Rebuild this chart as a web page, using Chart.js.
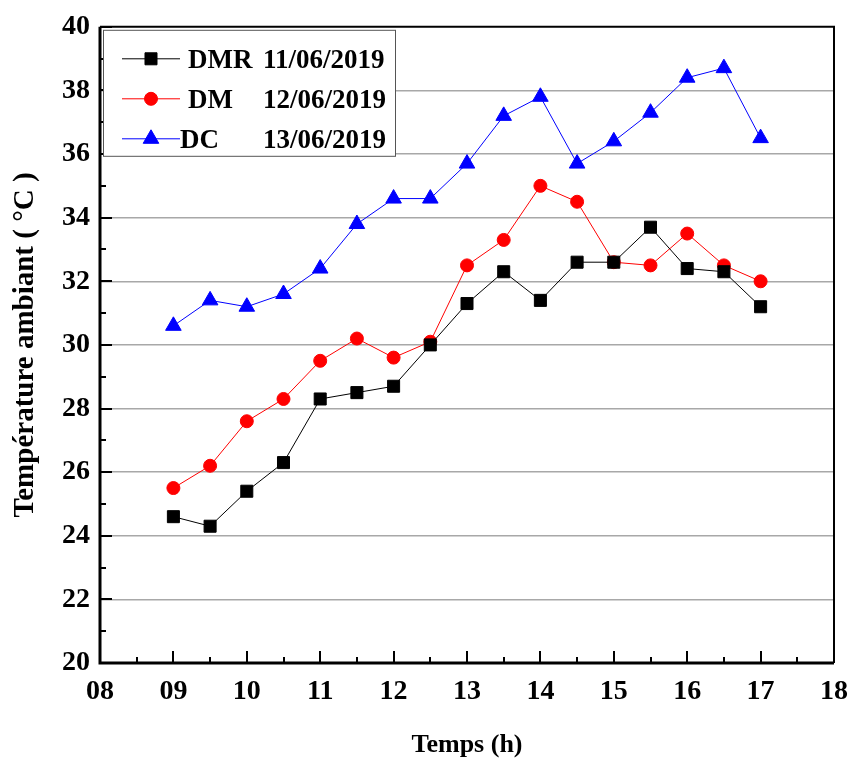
<!DOCTYPE html>
<html lang="fr">
<head>
    <meta charset="UTF-8">
    <script src="https://cdn.jsdelivr.net/npm/chart.js"></script>
    <title>Température ambiant</title>
    <style>
        html, body { margin: 0; padding: 0; background: #fff; }
        #box { width: 850px; height: 765px; }
    </style>
</head>
<body>
<div id="box"><canvas id="grafico"></canvas></div>

<script>
    // heures de mesure
    var heures = [9, 9.5, 10, 10.5, 11, 11.5, 12, 12.5, 13, 13.5, 14, 14.5, 15, 15.5, 16, 16.5, 17];

    var dmr = [24.6, 24.3, 25.4, 26.3, 28.3, 28.5, 28.7, 30.0, 31.3, 32.3, 31.4, 32.6, 32.6, 33.7, 32.4, 32.3, 31.2];
    var dm  = [25.5, 26.2, 27.6, 28.3, 29.5, 30.2, 29.6, 30.1, 32.5, 33.3, 35.0, 34.5, 32.6, 32.5, 33.5, 32.5, 32.0];
    var dc  = [30.6, 31.4, 31.2, 31.6, 32.4, 33.8, 34.6, 34.6, 35.7, 37.2, 37.8, 35.7, 36.4, 37.3, 38.4, 38.7, 36.5];

    var nomsSeries = ['DMR', 'DM', 'DC'];
    var dates = ['11/06/2019', '12/06/2019', '13/06/2019'];

    var xTicks = ['08', '09', '10', '11', '12', '13', '14', '15', '16', '17', '18'];

    var police = '"Liberation Serif", "Times New Roman", serif';

    function pts(valeurs) {
        var r = [];
        for (var i = 0; i < heures.length; i++) {
            r.push({ x: heures[i], y: valeurs[i] });
        }
        return r;
    }

    // ticks vers l'interieur + cadre
    var cadrePlugin = {
        id: 'cadre',
        afterDatasetsDraw: function (chart) {
            var ctx = chart.ctx;
            var a = chart.chartArea;
            var sx = chart.scales.x, sy = chart.scales.y;
            ctx.save();
            ctx.strokeStyle = '#000';
            ctx.lineWidth = 2;
            for (var v = 8; v <= 18; v += 0.5) {
                var px = Math.round(sx.getPixelForValue(v));
                var len = (v % 1 === 0) ? 12 : 6;
                ctx.beginPath();
                ctx.moveTo(px, a.bottom);
                ctx.lineTo(px, a.bottom - len);
                ctx.stroke();
            }
            for (var w = 20; w <= 40; w += 1) {
                var py = Math.round(sy.getPixelForValue(w));
                var l2 = (w % 2 === 0) ? 12 : 6;
                ctx.beginPath();
                ctx.moveTo(a.left, py);
                ctx.lineTo(a.left + l2, py);
                ctx.stroke();
            }
            ctx.lineWidth = 3;
            ctx.beginPath();
            ctx.moveTo(a.left, a.top);
            ctx.lineTo(a.left, a.bottom);
            ctx.lineTo(a.right, a.bottom);
            ctx.stroke();
            ctx.lineWidth = 2;
            ctx.beginPath();
            ctx.moveTo(a.left, a.top);
            ctx.lineTo(a.right, a.top);
            ctx.lineTo(a.right, a.bottom);
            ctx.stroke();
            ctx.restore();
        },
        afterDraw: function (chart) {
            // legende dans le graphique
            var ctx = chart.ctx;
            var a = chart.chartArea;
            var x0 = a.left + 3, y0 = a.top + 3, w = 292, h = 126;
            ctx.save();
            ctx.fillStyle = '#fff';
            ctx.fillRect(x0, y0, w, h);
            ctx.strokeStyle = '#555';
            ctx.lineWidth = 1;
            ctx.strokeRect(x0 + 0.5, y0 + 0.5, w, h);
            ctx.font = 'bold 27px ' + police;
            ctx.textBaseline = 'middle';
            chart.data.datasets.forEach(function (ds, i) {
                var y = y0 + 29 + i * 40;
                ctx.strokeStyle = ds.borderColor;
                ctx.lineWidth = 1;
                ctx.beginPath();
                ctx.moveTo(x0 + 19, y);
                ctx.lineTo(x0 + 77, y);
                ctx.stroke();
                ctx.fillStyle = ds.backgroundColor;
                Chart.helpers.drawPoint(ctx, {
                    pointStyle: ds.pointStyle,
                    radius: ds.pointRadius,
                    borderWidth: 1,
                    rotation: 0
                }, x0 + 48, y);
                ctx.fillStyle = '#000';
                ctx.fillText(nomsSeries[i], x0 + (i === 2 ? 77 : 85), y + 2);
                ctx.fillText(dates[i], x0 + 160, y + 2);
            });
            ctx.restore();
        }
    };

    var data = {
        datasets: [{
            label: nomsSeries[0] + ' ' + dates[0],
            data: pts(dmr),
            borderColor: '#000000',
            backgroundColor: '#000000',
            pointStyle: 'rect',
            pointRadius: 8.5,
            borderWidth: 1
        },
        {
            label: nomsSeries[1] + ' ' + dates[1],
            data: pts(dm),
            borderColor: '#ff0000',
            backgroundColor: '#ff0000',
            pointStyle: 'circle',
            pointRadius: 6.5,
            borderWidth: 1
        },
        {
            label: nomsSeries[2] + ' ' + dates[2],
            data: pts(dc),
            borderColor: '#0000ff',
            backgroundColor: '#0000ff',
            pointStyle: 'triangle',
            pointRadius: 9,
            borderWidth: 1
        }]
    };

    var config = {
        type: 'line',
        data: data,
        plugins: [cadrePlugin],
        options: {
            responsive: false,
            animation: false,
            layout: { padding: { left: 0, top: 24, right: 16, bottom: 0 } },
            plugins: {
                legend: { display: false },
                tooltip: { enabled: false }
            },
            scales: {
                x: {
                    type: 'linear',
                    min: 8,
                    max: 18,
                    ticks: {
                        stepSize: 1,
                        color: '#000',
                        padding: 12,
                        font: { family: police, size: 28, weight: 'bold' },
                        callback: function (v) { return xTicks[v - 8]; }
                    },
                    grid: { display: false, drawTicks: false },
                    border: { display: false },
                    title: {
                        display: true,
                        text: 'Temps (h)',
                        color: '#000',
                        font: { family: police, size: 26, weight: 'bold' },
                        padding: { top: 14 }
                    },
                    afterFit: function (s) {
                        s.height = 102;
                        s.paddingLeft = 0;
                        s.paddingRight = 0;
                    }
                },
                y: {
                    min: 20,
                    max: 40,
                    ticks: {
                        stepSize: 2,
                        color: '#000',
                        padding: 10,
                        font: { family: police, size: 28, weight: 'bold' }
                    },
                    grid: {
                        drawTicks: false,
                        color: function (c) {
                            return (c.tick.value === 20 || c.tick.value === 40) ? 'rgba(0,0,0,0)' : '#a8a8a8';
                        },
                        lineWidth: 1.5
                    },
                    border: { display: false },
                    title: {
                        display: true,
                        text: 'Température ambiant ( °C )',
                        color: '#000',
                        font: { family: police, size: 29, weight: 'bold' },
                        padding: { top: 8, bottom: 4 }
                    },
                    afterFit: function (s) { s.width = 100; }
                }
            }
        }
    };

    var canvas = document.getElementById('grafico');
    canvas.width = 850;
    canvas.height = 765;
    var myChart = new Chart(canvas, config);
</script>
</body>
</html>
